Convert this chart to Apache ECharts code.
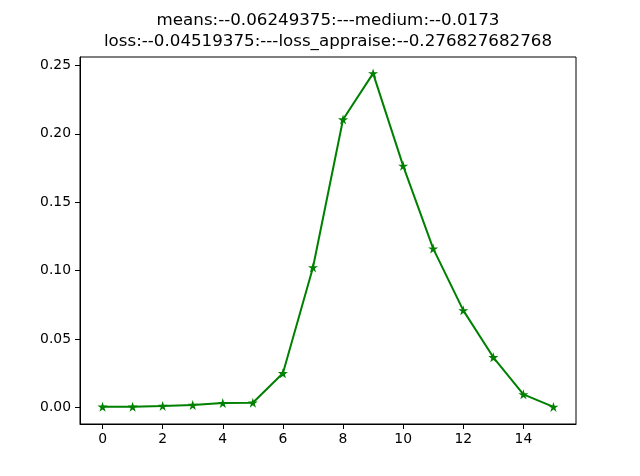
<!DOCTYPE html>
<html>
<head>
<meta charset="utf-8">
<script src="https://cdn.jsdelivr.net/npm/echarts@6/dist/echarts.min.js"></script>
<style>
  html, body { margin: 0; padding: 0; background: #fff; }
  #chart { width: 640px; height: 476px; }
</style>
</head>
<body>
<div id="chart"></div>
<script>
// values
const xValues = [0, 1, 2, 3, 4, 5, 6, 7, 8, 9, 10, 11, 12, 13, 14, 15]
const yValues = [0.0004, 0.0004, 0.001, 0.0017, 0.0031, 0.0034, 0.0249, 0.1023,
                 0.2105, 0.2442, 0.1766, 0.1161, 0.0709, 0.0366, 0.0095, 0.0003]
const xTicks = [0, 2, 4, 6, 8, 10, 12, 14]
const yTicks = [0, 0.05, 0.10, 0.15, 0.20, 0.25]
const titleLines = [
  'means:--0.06249375:---medium:--0.0173',
  'loss:--0.04519375:---loss_appraise:--0.276827682768'
]

const font = 'DejaVu Sans'
const star = 'path://M50,0 L61.2,34.5 L97.6,34.5 L68.2,55.9 L79.4,90.5 L50,69.1 L20.6,90.5 L31.8,55.9 L2.4,34.5 L38.8,34.5 Z'

const chart = echarts.init(document.getElementById('chart'), null, {renderer: 'canvas'})
chart.setOption({
  animation: false,
  backgroundColor: '#fff',
  grid: {
    left: 80,
    right: 64,
    top: 57,
    bottom: 52,
    show: true,
    borderColor: '#000',
    borderWidth: 1,
    backgroundColor: 'transparent'
  },
  graphic: titleLines.map((t, i) => ({
    type: 'text',
    x: 328,
    y: 21 + i * 21,
    style: {
      text: t,
      align: 'center',
      verticalAlign: 'middle',
      fontFamily: font,
      fontSize: 16.7,
      fill: '#000'
    }
  })),
  xAxis: {
    type: 'value',
    min: -0.75,
    max: 15.75,
    splitLine: {show: false},
    axisLine: {show: true, onZero: false, lineStyle: {color: '#000', width: 1}},
    axisTick: {show: true, length: 5, lineStyle: {color: '#000'}, customValues: xTicks},
    axisLabel: {
      color: '#000',
      fontFamily: font,
      fontSize: 13.9,
      margin: 8,
      customValues: xTicks,
      formatter: v => String(v)
    }
  },
  yAxis: {
    type: 'value',
    min: -0.0122,
    max: 0.2562,
    splitLine: {show: false},
    axisLine: {show: true, onZero: false, lineStyle: {color: '#000', width: 1}},
    axisTick: {show: true, length: 5, lineStyle: {color: '#000'}, customValues: yTicks},
    axisLabel: {
      color: '#000',
      fontFamily: font,
      fontSize: 13.9,
      margin: 9,
      customValues: yTicks,
      formatter: v => v.toFixed(2)
    }
  },
  series: [
    {
      type: 'line',
      data: xValues.map((x, i) => [x, yValues[i]]),
      symbol: star,
      symbolSize: 10,
      showAllSymbol: true,
      itemStyle: {color: '#008000'},
      lineStyle: {color: '#008000', width: 2}
    }
  ]
})
</script>
</body>
</html>
